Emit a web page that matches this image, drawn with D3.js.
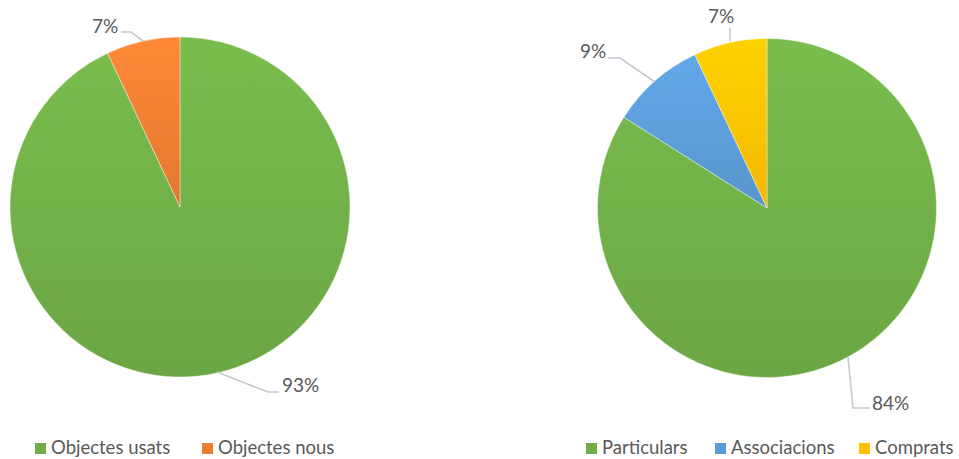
<!DOCTYPE html>
<html><head><meta charset="utf-8">
<script src="https://cdn.jsdelivr.net/npm/d3@7"></script>
<style>body{margin:0;background:#fff}svg{display:block}text{font-family:Lato,"Open Sans",sans-serif;fill:#595959}</style>
</head><body>
<script>
const categoriesA = ["Objectes usats", "Objectes nous"];
const valuesA = [93, 7];
const labelsA = ["93%", "7%"];
const categoriesB = ["Particulars", "Associacions", "Comprats"];
const valuesB = [84, 9, 7];
const labelsB = ["84%", "9%", "7%"];
const colorsA = ["#70AD47", "#ED7D31"];
const colorsB = ["#70AD47", "#5B9BD5", "#FFC000"];

const W = 959, H = 459;
const svg = d3.select("body").append("svg").attr("width", W).attr("height", H);
const defs = svg.append("defs");

function grad(id, c) {
  const g = defs.append("linearGradient").attr("id", id).attr("x1", 0).attr("y1", 0).attr("x2", 0).attr("y2", 1);
  g.append("stop").attr("offset", "0%").attr("stop-color", d3.color(c).brighter(0.25));
  g.append("stop").attr("offset", "100%").attr("stop-color", d3.color(c).darker(0.12));
}

function drawPie(cfg) {
  const pie = d3.pie().sort(null).value(d => d)(cfg.values);
  const arc = d3.arc().innerRadius(0).outerRadius(cfg.r);
  const g = svg.append("g").attr("transform", `translate(${cfg.cx},${cfg.cy})`);
  pie.forEach((p, i) => {
    const id = cfg.id + i;
    grad(id, cfg.colors[i]);
    g.append("path").attr("d", arc(p)).attr("fill", `url(#${id})`)
      .attr("stroke", "#fff").attr("stroke-width", 0.4);
  });
  cfg.labels.forEach((L, i) => {
    svg.append("polyline").attr("points", L.line.map(p => p.join(",")).join(" "))
      .attr("fill", "none").attr("stroke", "#c3c8d2").attr("stroke-width", 1.6);
    svg.append("text").attr("x", L.x).attr("y", L.y).attr("font-size", 19)
      .attr("text-anchor", L.anchor || "start").text(cfg.text[i]);
  });
  const lg = svg.append("g");
  cfg.legend.forEach((x, i) => {
    lg.append("rect").attr("x", x).attr("y", 443).attr("width", 11).attr("height", 11).attr("fill", cfg.colors[i]);
    lg.append("text").attr("x", x + 16).attr("y", 454).attr("font-size", 18.5).text(cfg.cats[i]);
  });
}

drawPie({
  id: "a", cx: 180, cy: 207, r: 170, values: valuesA, colors: colorsA, cats: categoriesA,
  text: labelsA,
  labels: [
    {x: 282, y: 392, line: [[217, 372], [268, 392], [279, 392]]},
    {x: 92, y: 33, line: [[143, 41], [131, 32], [121, 32]]}
  ],
  legend: [35, 202]
});
drawPie({
  id: "b", cx: 767, cy: 208, r: 169.5, values: valuesB, colors: colorsB, cats: categoriesB,
  text: labelsB,
  labels: [
    {x: 872, y: 410, line: [[848, 357], [853, 408], [870, 408]]},
    {x: 580, y: 58, line: [[655, 82], [620, 58], [608, 58]]},
    {x: 708, y: 23, line: [[730, 41], [730, 28]]}
  ],
  legend: [586, 715, 859]
});
</script>
</body></html>
